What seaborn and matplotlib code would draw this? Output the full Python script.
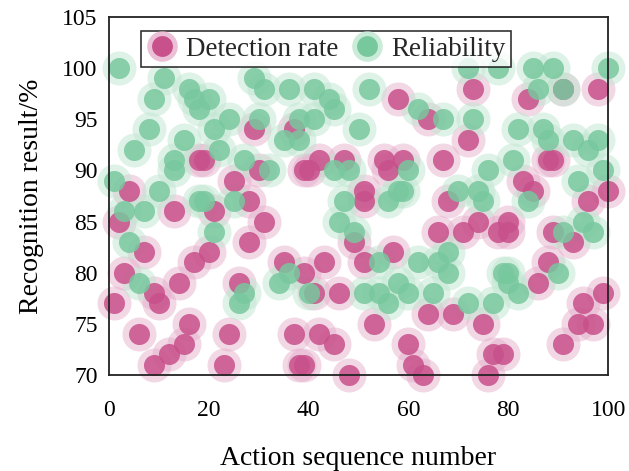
import matplotlib
matplotlib.use("Agg")
import matplotlib.pyplot as plt
import seaborn as sns
import pandas as pd
from matplotlib.lines import Line2D
from matplotlib.legend_handler import HandlerTuple

# Detection rate (pink)
det_x = [4, 18, 13, 2, 7, 17, 3, 14, 1, 9, 10, 16, 6, 15, 12, 9,
         29, 37, 19, 25, 30, 39, 28, 21, 31, 28, 20, 26, 35, 24, 37, 23, 38,
         58, 40, 42, 47, 55, 56, 51, 51, 49, 43, 57, 51, 39, 41, 46, 53, 42, 45, 39, 48, 60,
         73, 64, 72, 67, 59, 68, 66, 71, 74, 78, 64, 69, 75, 61, 63, 77, 76,
         84, 91, 98, 88, 89, 83, 85, 100, 96, 80, 80, 89, 93, 88, 86, 99, 95, 94, 97, 91, 79]
det_y = [88, 91, 86, 85, 82, 81, 80, 79, 77, 78, 77, 75, 74, 73, 72, 71,
         94, 94, 91, 89, 90, 90, 87, 86, 85, 83, 82, 79, 81, 74, 74, 71, 71,
         97, 90, 91, 91, 91, 90, 88, 87, 83, 81, 82, 81, 80, 78, 78, 75, 74, 73, 71, 70, 73,
         98, 95, 93, 91, 91, 87, 84, 84, 85, 84, 76, 76, 75, 71, 70, 72, 70,
         97, 98, 98, 91, 91, 89, 88, 88, 87, 85, 84, 84, 83, 81, 79, 78, 77, 75, 75, 73, 72]

# Reliability (green)
rel_x = [2, 11, 9, 16, 17, 18, 8, 5, 15, 13, 13, 1, 10, 18, 3, 7, 4, 6,
         29, 31, 36, 20, 24, 21, 30, 38, 35, 38, 22, 27, 32, 19, 25, 21, 34, 36, 27, 26,
         41, 52, 44, 45, 41, 50, 45, 48, 47, 56, 58, 46, 49, 54, 40, 51, 54, 56, 58,
         72, 78, 62, 67, 73, 60, 76, 70, 74, 75, 59, 62, 68, 66, 68, 60, 65, 72, 77, 79,
         85, 89, 100, 86, 91, 82, 87, 88, 93, 98, 96, 81, 99, 94, 84, 91, 95, 97, 80, 90, 82, 80]
rel_y = [100, 99, 97, 98, 97, 96, 94, 92, 93, 91, 90, 89, 88, 87, 86, 86, 83, 79,
         99, 98, 98, 97, 95, 94, 95, 95, 93, 93, 92, 91, 90, 87, 87, 84, 79, 80, 78, 77,
         98, 98, 97, 96, 95, 94, 90, 90, 87, 87, 88, 85, 84, 81, 78, 78, 78, 77, 79,
         100, 100, 96, 95, 95, 90, 90, 88, 88, 87, 88, 81, 82, 81, 80, 78, 78, 77, 77, 80,
         100, 100, 100, 98, 98, 94, 94, 93, 93, 93, 92, 91, 90, 89, 87, 84, 85, 84, 80, 80, 78, 79]

df_det = pd.DataFrame({"x": det_x, "y": det_y})
df_rel = pd.DataFrame({"x": rel_x, "y": rel_y})

sns.set_style("white")
plt.rcParams["font.family"] = ["Liberation Serif", "DejaVu Serif"]

pink_core = "#c8508b"
pink_halo = "#e6b0cc"
green_core = "#78c89e"
green_halo = "#bfe6d0"

fig = plt.figure(figsize=(6.29, 4.71), dpi=100)
ax = fig.add_axes([0.173, 0.204, 0.794, 0.760])

S_HALO = 600
S_CORE = 230

for df, core, halo in [(df_det, pink_core, pink_halo), (df_rel, green_core, green_halo)]:
    sns.scatterplot(data=df, x="x", y="y", ax=ax, s=S_HALO, color=halo, alpha=0.5,
                    linewidth=0, clip_on=False, legend=False, zorder=3)
    sns.scatterplot(data=df, x="x", y="y", ax=ax, s=S_CORE, color=core, alpha=0.85,
                    linewidth=0, clip_on=False, legend=False, zorder=4)

ax.set_xlim(0, 100)
ax.set_ylim(70, 105)
ax.set_xticks([0, 20, 40, 60, 80, 100])
ax.set_yticks([70, 75, 80, 85, 90, 95, 100, 105])
ax.tick_params(direction="in", length=6, width=1.3, labelsize=17, colors="black",
               top=False, right=False)
ax.tick_params(axis="x", pad=18)
ax.tick_params(axis="y", pad=8)
for sp in ax.spines.values():
    sp.set_color("#222222")
    sp.set_linewidth(1.3)
    sp.set_zorder(5)

ax.set_xlabel("Action sequence number", fontsize=20, labelpad=18, color="black")
ax.set_ylabel("Recognition result/%", fontsize=20, labelpad=13, color="black")

h_det = (Line2D([], [], marker="o", ls="", ms=22, color=pink_halo, alpha=0.8, mew=0),
         Line2D([], [], marker="o", ls="", ms=15, color=pink_core, mew=0))
h_rel = (Line2D([], [], marker="o", ls="", ms=22, color=green_halo, alpha=0.8, mew=0),
         Line2D([], [], marker="o", ls="", ms=15, color=green_core, mew=0))
leg = ax.legend([h_det, h_rel], ["Detection rate", "Reliability"],
                handler_map={tuple: HandlerTuple(ndivide=1)},
                loc="upper center", bbox_to_anchor=(0.435, 0.975), ncol=2,
                fontsize=19.5, frameon=True, fancybox=False, edgecolor="black",
                handlelength=1.1, handletextpad=0.35, columnspacing=0.5,
                borderpad=0.2, borderaxespad=0.2)
leg.get_frame().set_linewidth(1.2)
leg.set_zorder(10)

fig.savefig("out.png", dpi=100, facecolor="white")
